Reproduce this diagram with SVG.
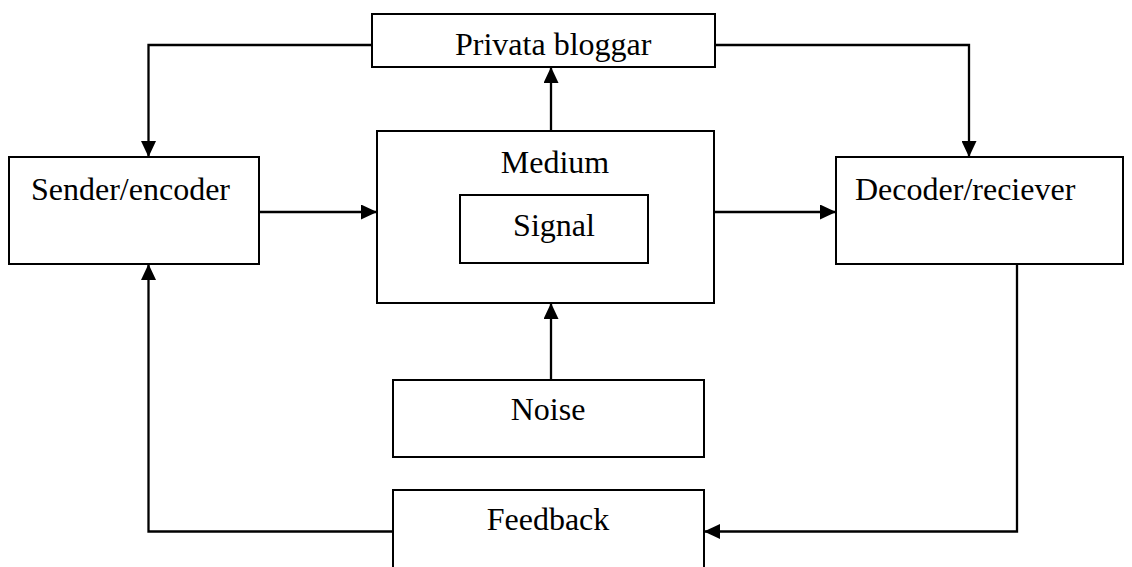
<svg xmlns="http://www.w3.org/2000/svg" width="1132" height="567" viewBox="0 0 1132 567">
  <style>
    .box { fill: #fff; stroke: #000; stroke-width: 2; }
    .lbl { font-family: "Liberation Serif", "Times New Roman", serif; font-size: 32px; fill: #000; }
    .wire { fill: none; stroke: #000; stroke-width: 2.3; marker-end: url(#head); }
  </style>
  <defs>
    <marker id="head" markerUnits="userSpaceOnUse" markerWidth="16" markerHeight="15" refX="16" refY="7.5" orient="auto">
      <path d="M0,0 L16,7.5 L0,15 Z" fill="#000"/>
    </marker>
  </defs>
  <rect width="1132" height="567" fill="#fff"/>

  <g id="connectors">
    <!-- Privata bloggar to Sender -->
    <polyline class="wire" points="372,45 148.5,45 148.5,157"/>
    <!-- Privata bloggar to Decoder -->
    <polyline class="wire" points="715,45 969,45 969,157"/>
    <!-- Medium up to Privata bloggar -->
    <polyline class="wire" points="551,131 551,67"/>
    <!-- Sender to Medium -->
    <polyline class="wire" points="259,212 377,212"/>
    <!-- Medium to Decoder -->
    <polyline class="wire" points="714,212 836,212"/>
    <!-- Noise to Medium -->
    <polyline class="wire" points="551,380 551,303"/>
    <!-- Decoder to Feedback -->
    <polyline class="wire" points="1017,264 1017,531.5 704,531.5"/>
    <!-- Feedback to Sender -->
    <polyline class="wire" points="393,531.5 148.5,531.5 148.5,264"/>
  </g>

  <g id="privata-bloggar">
    <rect class="box" x="372" y="14" width="343" height="53"/>
    <text class="lbl" x="455" y="55">Privata bloggar</text>
  </g>

  <g id="sender">
    <rect class="box" x="9" y="157" width="250" height="107"/>
    <text class="lbl" x="31" y="200">Sender/encoder</text>
  </g>

  <g id="medium">
    <rect class="box" x="377" y="131" width="337" height="172"/>
    <text class="lbl" x="555" y="173" text-anchor="middle">Medium</text>
  </g>

  <g id="signal">
    <rect class="box" x="460" y="195" width="188" height="68"/>
    <text class="lbl" x="554" y="236" text-anchor="middle">Signal</text>
  </g>

  <g id="decoder">
    <rect class="box" x="836" y="157" width="287" height="107"/>
    <text class="lbl" x="855" y="200">Decoder/reciever</text>
  </g>

  <g id="noise">
    <rect class="box" x="393" y="380" width="311" height="77"/>
    <text class="lbl" x="548" y="420" text-anchor="middle">Noise</text>
  </g>

  <g id="feedback">
    <rect class="box" x="393" y="490" width="311" height="90"/>
    <text class="lbl" x="548" y="530" text-anchor="middle">Feedback</text>
  </g>
</svg>
